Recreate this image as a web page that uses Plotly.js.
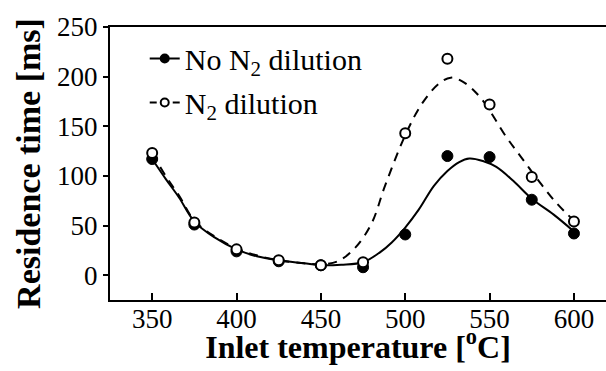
<!DOCTYPE html>
<html>
<head>
<meta charset="utf-8">
<script src="https://cdn.plot.ly/plotly-3.0.1.min.js"></script>
<style>html,body{margin:0;padding:0;background:#fff;}#chart{width:606px;height:371px;}</style>
</head>
<body>
<div id="chart"></div>
<script>
// Measured data points
const temps = [350, 375, 400, 425, 450, 475, 500, 525, 550, 575, 600];
const noN2 = [117, 51, 24, 14, 10, 8, 41, 120, 119, 76, 42];
const withN2 = [123, 53, 26, 15, 10, 13, 143, 218, 172, 99, 54];

// Fitted curves
const fitNoN2X = [350, 358, 366, 375, 387, 400, 412, 425, 440, 450, 462, 475, 485, 492, 500, 508, 517, 525, 532, 538, 546, 554, 564, 575, 588, 600];
const fitNoN2Y = [117, 97, 78, 54, 38, 26, 19, 15, 12, 10, 10.5, 13, 23, 33, 48, 66, 90, 105, 114, 117.5, 115, 109, 95, 77, 61, 44];
const fitN2X = [350, 358, 366, 375, 387, 400, 412, 425, 440, 450, 460, 470, 480, 488, 500, 510, 520, 527, 535, 545, 560, 570, 580, 590, 600];
const fitN2Y = [123, 100, 80, 55, 39, 27, 20, 15, 12, 11, 14, 27, 52, 90, 141, 173, 193, 199, 194, 178, 139, 116, 93, 72, 55];

const xTicks = [350, 400, 450, 500, 550, 600];
const yTicks = [0, 50, 100, 150, 200, 250];

const serif = "Liberation Serif";
const xRange = [325, 619];

const traces = [
  {x: fitNoN2X, y: fitNoN2Y, mode: 'lines', line: {color: '#000', width: 2, shape: 'spline'}, showlegend: false, hoverinfo: 'skip'},
  {x: fitN2X, y: fitN2Y, mode: 'lines', line: {color: '#000', width: 2, dash: '9px,7px', shape: 'spline'}, showlegend: false, hoverinfo: 'skip'},
  {x: temps, y: noN2, mode: 'markers', marker: {symbol: 'circle', size: 11, color: '#000', line: {color: '#000', width: 1}}, showlegend: false},
  {x: temps, y: withN2, mode: 'markers', marker: {symbol: 'circle', size: 10, color: '#fff', line: {color: '#000', width: 2}}, showlegend: false},
  // legend entries
  {x: [null], y: [null], mode: 'lines+markers', name: 'No N<sub>2</sub> dilution', legendgroup: 'a',
   line: {color: '#000', width: 2}, marker: {symbol: 'circle', size: 10, color: '#000'}},
  {x: [null], y: [null], mode: 'lines+markers', name: 'N<sub>2</sub> dilution', legendgroup: 'b',
   line: {color: '#000', width: 2, dash: '7px,16px'}, marker: {symbol: 'circle', size: 8, color: '#fff', line: {color: '#000', width: 2}}},
  // invisible traces carrying the label axis and the title axis
  {x: [null], y: [null], xaxis: 'x2', mode: 'lines', showlegend: false, hoverinfo: 'skip'},
  {x: [null], y: [null], xaxis: 'x3', mode: 'lines', showlegend: false, hoverinfo: 'skip'}
];

const layout = {
  width: 606, height: 371,
  margin: {l: 110, r: 0, t: 27, b: 71},
  paper_bgcolor: '#fff', plot_bgcolor: '#fff',
  font: {family: serif, color: '#000', size: 26},
  showlegend: true,
  legend: {x: 0.07, y: 0.98, xanchor: 'left', yanchor: 'top', bgcolor: 'rgba(0,0,0,0)',
           font: {family: serif, size: 30, color: '#000'}, tracegroupgap: 2, traceorder: 'grouped'},
  xaxis: {
    range: xRange, tickvals: xTicks,
    ticks: 'inside', ticklen: 7, tickwidth: 2, tickcolor: '#000',
    showline: true, linewidth: 2, linecolor: '#000', mirror: true,
    showgrid: false, zeroline: false, showticklabels: false
  },
  xaxis2: {
    overlaying: 'x', anchor: 'free', position: 0, side: 'bottom',
    range: xRange, tickvals: xTicks, ticktext: xTicks.map(String),
    ticks: '', showline: false, showgrid: false, zeroline: false,
    tickfont: {family: serif, size: 27, color: '#000'}
  },
  xaxis3: {
    overlaying: 'x', anchor: 'free', position: 0, side: 'bottom',
    range: xRange, showticklabels: false,
    ticks: '', showline: false, showgrid: false, zeroline: false,
    title: {text: '<b>Inlet temperature [<sup>o</sup>C]</b>', font: {family: serif, size: 32, color: '#000'}, standoff: 35}
  },
  yaxis: {
    range: [-25, 250], tickvals: yTicks, ticktext: yTicks.map(String),
    ticks: 'outside', ticklen: 5, tickwidth: 2, tickcolor: '#000',
    showline: true, linewidth: 2, linecolor: '#000',
    showgrid: false, zeroline: false,
    tickfont: {family: serif, size: 27, color: '#000'},
    title: {text: '<b>Residence time [ms]</b>', font: {family: serif, size: 34, color: '#000'}, standoff: 6}
  }
};

Plotly.newPlot('chart', traces, layout, {staticPlot: true, displayModeBar: false});
</script>
</body>
</html>
